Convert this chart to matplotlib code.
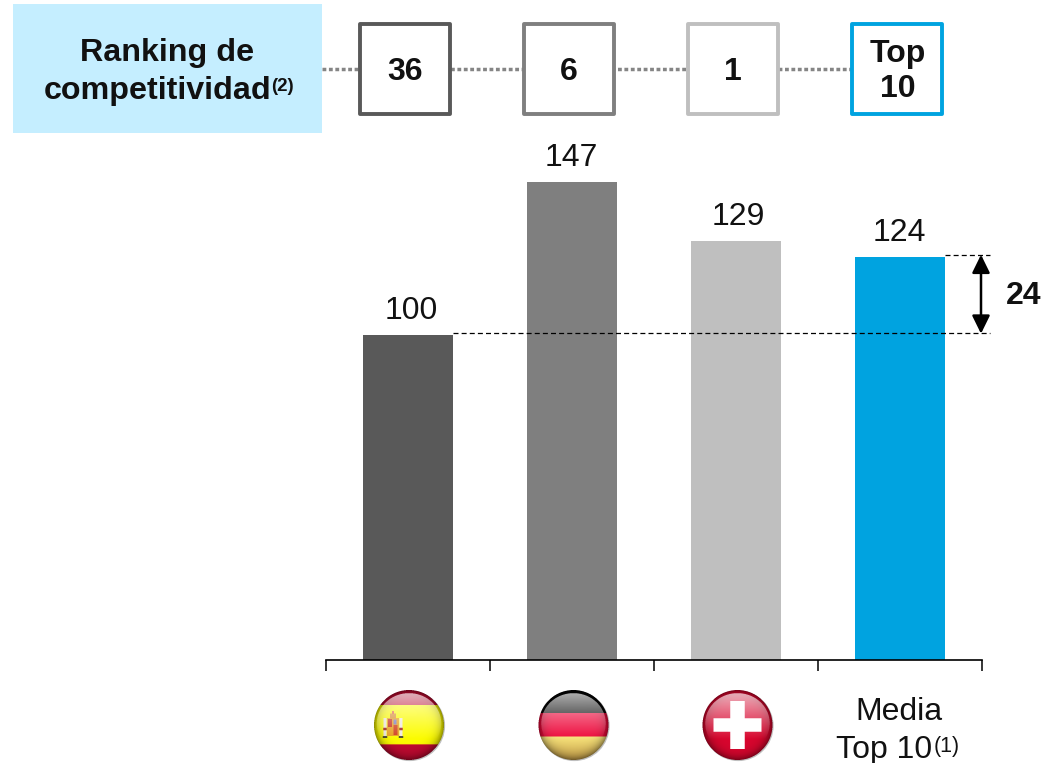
import numpy as np
import matplotlib
matplotlib.use("Agg")
import matplotlib.pyplot as plt
from matplotlib.patches import Rectangle, Circle

# ---- data ----
categories = ["España", "Alemania", "Suiza", "Media Top 10"]
values = [100, 147, 129, 124]
bar_colors = ["#595959", "#7F7F7F", "#BFBFBF", "#00A3E0"]
ranks = ["36", "6", "1", "Top\n10"]
diff_label = "24"
row_title = ["Ranking de", "competitividad"]

plt.rcParams["font.family"] = ["Liberation Sans", "DejaVu Sans"]
W, H = 1043, 763
FS = 23
fig = plt.figure(figsize=(W / 100, H / 100), dpi=100, facecolor="white")

# bar axes: 326..982 px wide, baseline at y=660 px, 3.25 px per unit
ax = fig.add_axes([326 / W, (H - 660) / H, 656 / W, 660 / H], facecolor="none")
ax.set_xlim(-0.5, 3.5)
ax.set_ylim(0, 660 / 3.25)
ax.bar(range(4), values, width=0.549, color=bar_colors, linewidth=0)
for s in ["top", "left", "right"]:
    ax.spines[s].set_visible(False)
ax.spines["bottom"].set_linewidth(1.2)
ax.set_yticks([])
ax.set_xticks(np.arange(-0.5, 4, 1))
ax.set_xticklabels([])
ax.tick_params(axis="x", length=8, width=1.1, direction="out")

label_dx = [3, -1, 2, -1]
for i, (v, dx) in enumerate(zip(values, label_dx)):
    ax.annotate(str(v), (i, v), xytext=(dx * 0.72, 16 * 0.72), textcoords="offset points",
                ha="center", va="baseline", fontsize=FS, color="#111111")

# difference marker, drawn from the values
px = 1 / 164
ref, top = values[0], values[3]
ax.plot([0 + 45 * px, 3 + 90 * px], [ref + 0.5, ref + 0.5], color="black", lw=0.9,
        dashes=(4, 2.5), clip_on=False, zorder=5)
ax.plot([3 + 45 * px, 3 + 90 * px], [top + 0.7, top + 0.7], color="black", lw=0.9,
        dashes=(4, 2.5), clip_on=False, zorder=5)
ax.annotate("", xy=(3 + 81 * px, ref + 0.4), xytext=(3 + 81 * px, top + 0.7),
            arrowprops=dict(arrowstyle="<|-|>,head_length=0.55,head_width=0.27", color="black",
                            lw=1.8, shrinkA=0, shrinkB=0, mutation_scale=20), annotation_clip=False)

# overlay in pixel coordinates
ov = fig.add_axes([0, 0, 1, 1], facecolor="none")
ov.set_xlim(0, W)
ov.set_ylim(H, 0)
ov.axis("off")

ov.add_patch(Rectangle((13, 4), 309, 129, facecolor="#C5EEFF", edgecolor="none", zorder=1))
ov.text(167, 61, row_title[0], ha="center", va="baseline", fontsize=FS + 0.2, fontweight="bold", color="#111111")
ov.text(157.5, 99, row_title[1], ha="center", va="baseline", fontsize=FS + 0.2, fontweight="bold", color="#111111")
ov.text(282.5, 91, "(2)", ha="center", va="baseline", fontsize=13.5, fontweight="bold", color="#111111")

ov.plot([322, 852], [69, 69], color="#858585", lw=2.5, dashes=(1.1, 0.75), zorder=1)
box_x = [405, 569, 733, 897]
box_col = bar_colors
for cx, r, c in zip(box_x, ranks, box_col):
    ov.add_patch(Rectangle((cx - 45, 24), 90, 90, facecolor="white", edgecolor=c, lw=2.8, zorder=2,
                           joinstyle="round"))
    if "\n" in r:
        a, b = r.split("\n")
        ov.text(cx + 1, 62, a, ha="center", va="baseline", fontsize=FS, fontweight="bold", color="#111111", zorder=3)
        ov.text(cx + 1, 97, b, ha="center", va="baseline", fontsize=FS, fontweight="bold", color="#111111", zorder=3)
    else:
        ov.text(cx, 80, r, ha="center", va="baseline", fontsize=FS, fontweight="bold", color="#111111", zorder=3)

ov.text(1023.5, 304, diff_label, ha="center", va="baseline", fontsize=FS, fontweight="bold", color="#111111")

ov.text(899, 720, "Media", ha="center", va="baseline", fontsize=FS, color="#111111")
ov.text(884, 758, "Top 10", ha="center", va="baseline", fontsize=FS, color="#111111")
ov.text(946.5, 752, "(1)", ha="center", va="baseline", fontsize=15.5, color="#111111")


# flag icons (glossy spheres)
def hex2(c):
    return np.array(matplotlib.colors.to_rgb(c))


def paint(mask, img, c):
    img[mask] = hex2(c)


def flag(kind, cx, cy, r=35.0, ss=4):
    size = int(2 * r + 4)
    n = size * ss
    l, t = int(cx - size / 2), int(cy - size / 2)
    xs = l + (np.arange(n) + 0.5) / ss
    ys = t + (np.arange(n) + 0.5) / ss
    X, Y = np.meshgrid(xs, ys)
    dx, dy = X - cx, Y - cy
    rr = np.hypot(dx, dy) / r
    img = np.zeros((n, n, 3))
    keep_white = np.zeros((n, n), bool)
    if kind == "es":
        img[:] = hex2("#BE0A30")
        img[(dy > -20) & (dy < 19)] = hex2("#FCFC00")
        paint((dy >= 19) & (dy < 20), img, "#D86020")
        # coat of arms
        paint((np.abs(X - (cx - 16)) < 6) & (np.abs(Y - (cy + 2)) < 9), img, "#E8A020")
        paint((np.abs(X - (cx - 19)) < 2) & (np.abs(Y - (cy - 2)) < 4), img, "#C83020")
        paint((np.abs(X - (cx - 13.5)) < 2) & (np.abs(Y - (cy + 5)) < 5), img, "#D04020")
        paint((np.abs(X - (cx - 14)) < 1.5) & (np.abs(Y - (cy - 3)) < 2.5), img, "#8080C0")
        paint((np.abs(X - (cx - 16)) < 3) & (np.abs(Y - (cy - 9)) < 2.5), img, "#D89030")
        paint((np.abs(X - (cx - 16)) < 1) & (np.abs(Y - (cy - 12.5)) < 1.5), img, "#E06040")
        paint((np.abs(X - (cx - 24)) < 1.5) & (np.abs(Y - (cy + 2)) < 9), img, "#F0E8E0")
        paint((np.abs(X - (cx - 8)) < 1.5) & (np.abs(Y - (cy + 2)) < 9), img, "#F0E8E0")
        paint((np.abs(X - (cx - 24)) < 1.8) & (np.abs(Y - (cy + 4)) < 1.2), img, "#A02020")
        paint((np.abs(X - (cx - 8)) < 1.8) & (np.abs(Y - (cy + 4)) < 1.2), img, "#A02020")
        paint((np.abs(X - (cx - 24)) < 2.2) & (np.abs(Y - (cy + 12)) < 1), img, "#505030")
        paint((np.abs(X - (cx - 8)) < 2.2) & (np.abs(Y - (cy + 12)) < 1), img, "#505030")
    elif kind == "de":
        img[:] = hex2("#050505")
        img[(dy >= -12) & (dy < 11.5)] = hex2("#EE0A3C")
        t01 = np.clip((dy - 11.5) / 23.5, 0, 1)[..., None]
        gold = hex2("#F8E47C") * (1 - t01) + hex2("#C8A048") * t01
        g = dy >= 11.5
        img[g] = gold[g]
    else:
        img[:] = hex2("#D8062E")
        v = (np.abs(dx) < 7.2) & (np.abs(dy) < 24)
        h = (np.abs(dy) < 6.7) & (np.abs(dx) < 24)
        keep_white = v | h
        img[keep_white] = hex2("#FFFFFF")

    # narrow dark rim
    shade = np.clip(1.0 - 0.45 * rr ** 7, 0, 1)[..., None]
    img = img * shade

    # gloss: dome, inset from the top rim, fading towards the middle
    in_dome = np.hypot(dx / (r * 0.92), (Y - (cy - r * 0.05)) / (r * 0.86)) < 1.0
    ga = np.where(in_dome, np.clip(0.72 * (1 - (Y - (cy - r)) / (1.4 * r)), 0, 0.72), 0.0)[..., None]
    img = img * (1 - ga) + ga
    img[keep_white] = 1.0

    alpha = (rr <= 1.0).astype(float)
    rgba = np.dstack([img * alpha[..., None], alpha])
    rgba = rgba.reshape(size, ss, size, ss, 4).mean(axis=(1, 3))
    a = rgba[..., 3:]
    rgb = np.divide(rgba[..., :3], a, out=np.ones_like(rgba[..., :3]), where=a > 0)
    out = np.dstack([rgb, a[..., 0]])
    ov.add_patch(Circle((cx + 0.8, cy + 0.8), r + 0.3, facecolor="#808080", edgecolor="none", alpha=0.5, zorder=3))
    ov.imshow(out, extent=(l, l + size, t + size, t), interpolation="nearest", aspect="auto", zorder=4)


flag("es", 409, 725)
flag("de", 573.5, 725)
flag("ch", 737.5, 725)
ov.set_xlim(0, W)
ov.set_ylim(H, 0)

fig.savefig("out.png", dpi=100)
